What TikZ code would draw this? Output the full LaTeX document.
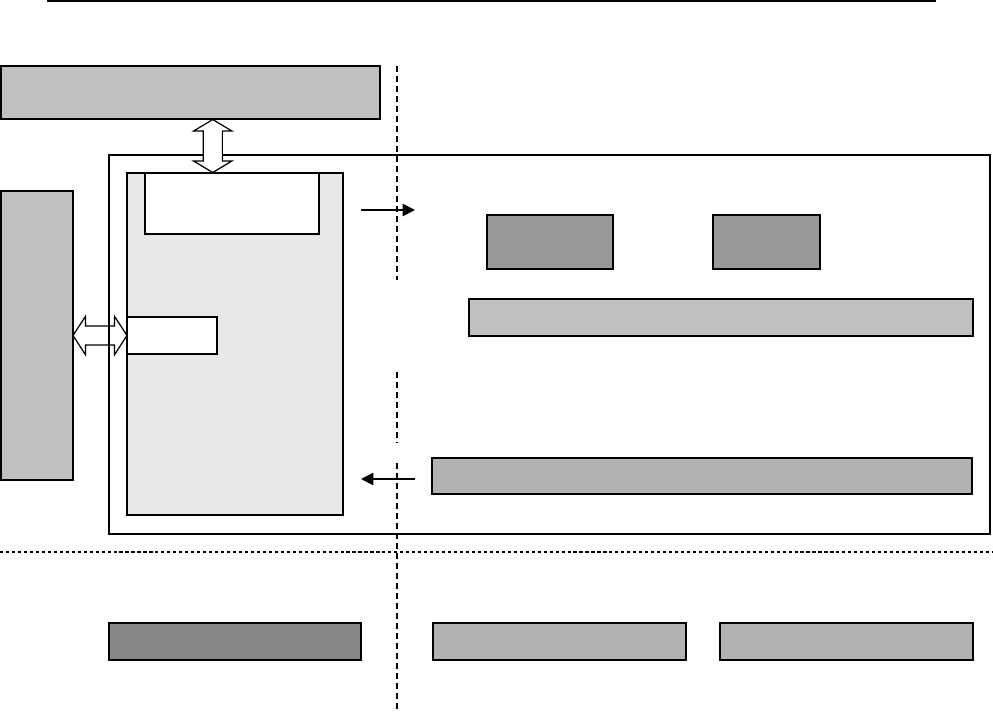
\documentclass[tikz,border=0pt]{standalone}
\usepackage{tikz}
\usetikzlibrary{calc,shapes.arrows,arrows.meta}

\definecolor{lgray}{HTML}{C0C0C0}
\definecolor{mgray}{HTML}{B2B2B2}
\definecolor{dgray}{HTML}{999999}
\definecolor{xgray}{HTML}{868686}
\definecolor{pgray}{HTML}{E8E8E8}

\tikzset{
  box/.style={draw, line width=1.1pt, inner sep=0pt, outer sep=0pt},
  thinbox/.style={draw, line width=0.8pt, inner sep=0pt, outer sep=0pt, fill=white},
  dbl/.style={double arrow, draw, line width=0.7pt, inner xsep=0pt, inner ysep=0.18cm,
    minimum width=0.74cm, double arrow head extend=0.19cm},
  sep/.style={line width=0.8pt, dash pattern=on 3.4pt off 2.3pt},
  dotsep/.style={line width=1.6pt, dash pattern=on 1.8pt off 1.6pt}
}

\begin{document}
\begin{tikzpicture}[x=0.02cm, y=-0.02cm, >={Triangle[length=7pt,width=7pt]}]
\useasboundingbox (0,0) rectangle (993,712);

\coordinate (T1) at (47,1);
\coordinate (T2) at (936,1);
\draw[line width=0.9pt] (T1) -- (T2);

\node[box, fill=lgray, minimum width=7.58cm, minimum height=1.06cm] (host) at (190.5,92.5) {};
\node[box, fill=lgray, minimum width=1.44cm, minimum height=5.78cm] (ext) at (37,335.5) {};
\node[box, minimum width=17.62cm, minimum height=7.58cm] (board) at (549.5,344.5) {};
\node[box, fill=pgray, minimum width=4.32cm, minimum height=6.84cm] (mcu) at (235,344) {};
\node[thinbox, minimum width=3.48cm, minimum height=1.22cm] (mem) at (232,203.5) {};
\node[box, fill=white, minimum width=1.8cm, minimum height=0.74cm] (port) at (172,335.5) {};

\node[box, fill=dgray, minimum width=2.52cm, minimum height=1.08cm] (blkA) at (550,242) {};
\node[box, fill=dgray, minimum width=2.14cm, minimum height=1.08cm] (blkB) at (766.5,242) {};
\node[box, fill=lgray, minimum width=10.08cm, minimum height=0.74cm] (barA) at (721,317.5) {};
\node[box, fill=mgray, minimum width=10.8cm, minimum height=0.72cm] (barB) at (702,476) {};

\node[box, fill=xgray, minimum width=5.04cm, minimum height=0.74cm] (botA) at (235,641.5) {};
\node[box, fill=mgray, minimum width=5.06cm, minimum height=0.74cm] (botB) at (559.5,641.5) {};
\node[box, fill=mgray, minimum width=5.06cm, minimum height=0.74cm] (botC) at (846.5,641.5) {};

\node[dbl, fill=white, rotate=90, minimum height=1.06cm, double arrow tip angle=118]
  (busV) at ($(host.south)!0.5!(mcu.north)$) {};
\node[dbl, minimum height=1.08cm, double arrow tip angle=114]
  (busH) at ($(ext.east)!0.5!(port.west)$) {};

\coordinate (R1) at (361,210);
\coordinate (R2) at (415,210);
\coordinate (L1) at (415,479);
\coordinate (L2) at (361,479);
\draw[->, line width=1pt] (R1) -- (R2);
\draw[->, line width=1pt] (L1) -- (L2);

\coordinate (V0) at (397,66);
\coordinate (V1) at (397,280);
\coordinate (V2) at (397,372);
\coordinate (V3) at (397,443);
\coordinate (V4) at (397,463);
\coordinate (V5) at (397,712);
\draw[sep] (V0) -- (V1);
\draw[sep] (V2) -- (V3);
\draw[sep] (V4) -- (V5);

\coordinate (H1) at (0,552);
\coordinate (H2) at (993,552);
\draw[dotsep] (H1) -- (H2);
\end{tikzpicture}
\end{document}
